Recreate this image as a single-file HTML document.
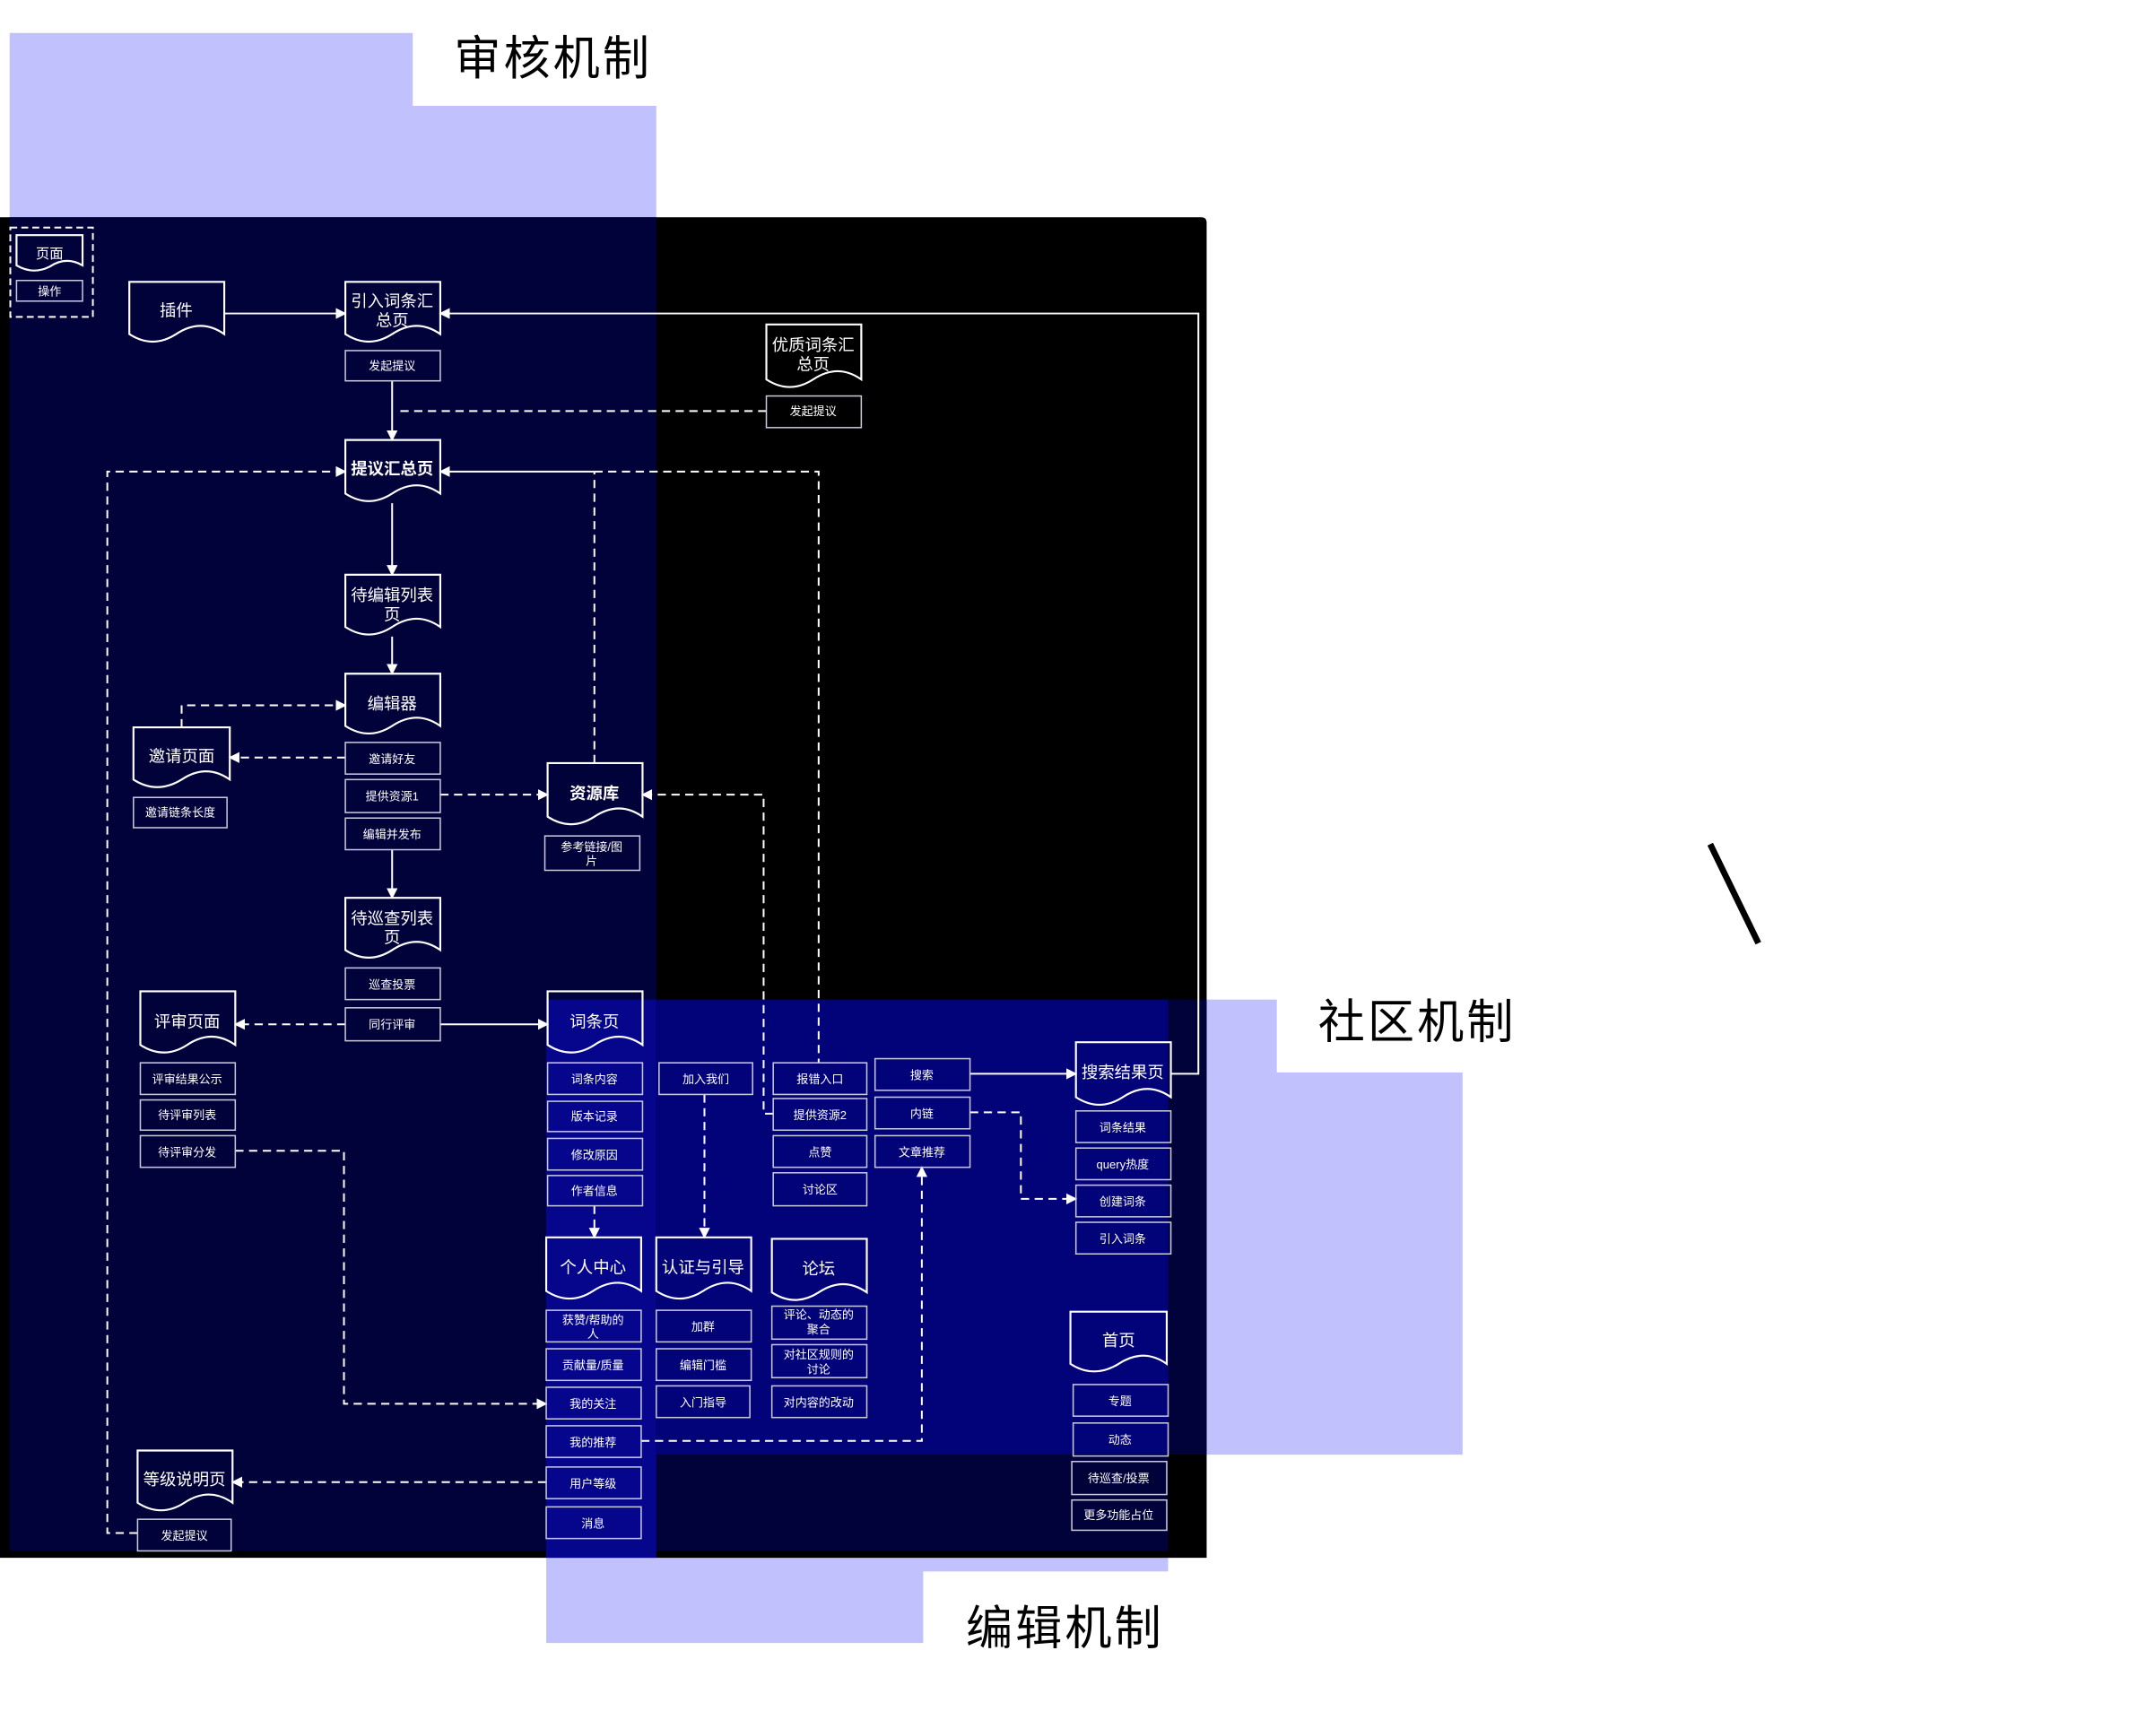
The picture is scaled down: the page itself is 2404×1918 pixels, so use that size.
<!DOCTYPE html>
<html><head><meta charset="utf-8"><style>
html,body{margin:0;padding:0;background:#fff;}
svg{display:block;}
text{font-family:"Liberation Sans","Noto Sans CJK SC",sans-serif;fill:#fff;text-anchor:middle;}
.t{fill:#000;font-size:34px;text-anchor:start;letter-spacing:2px;}
.d{font-size:12px;}
.b{font-size:8.5px;}
.doc{fill:none;stroke:#fff;stroke-width:1.4;}
.bx{fill:none;stroke:#c8c8dc;stroke-width:1;}
.s{fill:none;stroke:#fff;stroke-width:1.3;}
.ds{fill:none;stroke:#fff;stroke-width:1.3;stroke-dasharray:6 4;}
</style></head><body>
<svg width="2404" height="1918" viewBox="0 0 1567 1251" preserveAspectRatio="none" xmlns="http://www.w3.org/2000/svg">
<defs><marker id="a" markerWidth="8" markerHeight="8" refX="7" refY="4" orient="auto" markerUnits="userSpaceOnUse"><path d="M0,0 L8,4 L0,8 Z" fill="#fff"/></marker></defs>
<!-- lavender panels -->
<path d="M7,24 H300 V77 H477 V160 H7 Z" fill="#c1c1fd"/>
<path d="M849,727 H928 V780 H1063 V1058 H849 Z" fill="#c1c1fd"/>
<path d="M397,1120 H849 V1143 H671 V1195 H397 Z" fill="#c1c1fd"/>
<text class="t" x="330" y="54">审核机制</text>
<text class="t" x="958" y="755">社区机制</text>
<text class="t" x="702" y="1196">编辑机制</text>
<line x1="1243" y1="614" x2="1278" y2="686" stroke="#000" stroke-width="4.5"/>
<!-- black / navy -->
<path d="M0,158 H873 Q877,158 877,162 V1133 H0 Z" fill="#000"/>
<rect x="7" y="158" width="470" height="970" fill="#02023a"/>
<rect x="849" y="727" width="28" height="331" fill="#02023a"/>
<rect x="477" y="727" width="372" height="331" fill="#020279"/>
<rect x="477" y="1058" width="372" height="70" fill="#02023a"/>
<rect x="397" y="727" width="80" height="406" fill="#06068c"/>

<!-- legend -->
<rect x="7.5" y="165.5" width="60" height="65" fill="none" stroke="#fff" stroke-width="1.3" stroke-dasharray="5 3"/>
<path class="doc" d="M12,171 H60 V193 Q48,186 36,194 Q24,200 12,193 Z"/><text class="b" x="36" y="188" style="font-size:10px">页面</text>
<rect class="bx" x="12" y="204" width="48" height="15"/><text class="b" x="36" y="215">操作</text>

<!-- connectors -->
<line class="s" x1="163" y1="228" x2="251" y2="228" marker-end="url(#a)"/>
<polyline class="s" points="851,781 871,781 871,228 320,228" marker-end="url(#a)"/>
<line class="s" x1="285" y1="277" x2="285" y2="320" marker-end="url(#a)"/>
<line class="ds" x1="557" y1="299" x2="287" y2="299"/>
<line class="s" x1="285" y1="366" x2="285" y2="418" marker-end="url(#a)"/>
<line class="s" x1="285" y1="463" x2="285" y2="490" marker-end="url(#a)"/>
<polyline class="ds" points="100,1115 78,1115 78,343 251,343" marker-end="url(#a)"/>
<line class="s" x1="432" y1="343" x2="320" y2="343" marker-end="url(#a)"/>
<line class="ds" x1="432" y1="555" x2="432" y2="343"/>
<polyline class="ds" points="432,343 595,343 595,773"/>
<polyline class="ds" points="132,529 132,513 251,513" marker-end="url(#a)"/>
<line class="ds" x1="251" y1="551" x2="167" y2="551" marker-end="url(#a)"/>
<line class="ds" x1="320" y1="578" x2="398" y2="578" marker-end="url(#a)"/>
<polyline class="ds" points="562,810 555,810 555,578 467,578" marker-end="url(#a)"/>
<line class="s" x1="285" y1="618" x2="285" y2="653" marker-end="url(#a)"/>
<line class="ds" x1="251" y1="745" x2="171" y2="745" marker-end="url(#a)"/>
<line class="s" x1="320" y1="745" x2="398" y2="745" marker-end="url(#a)"/>
<polyline class="ds" points="171,837 250,837 250,1021 397,1021" marker-end="url(#a)"/>
<line class="ds" x1="432" y1="877" x2="432" y2="900" marker-end="url(#a)"/>
<line class="ds" x1="512" y1="796" x2="512" y2="900" marker-end="url(#a)"/>
<line class="s" x1="705" y1="781" x2="782" y2="781" marker-end="url(#a)"/>
<polyline class="ds" points="705,809 742,809 742,872 782,872" marker-end="url(#a)"/>
<polyline class="ds" points="466,1048 670,1048 670,849" marker-end="url(#a)"/>
<line class="ds" x1="397" y1="1078" x2="169" y2="1078" marker-end="url(#a)"/>

<!-- documents -->
<path class="doc" d="M94,205 H163 V243 Q146,231 128,243 Q111,254 94,243 Z"/><text class="d" x="128" y="230">插件</text>
<path class="doc" d="M251,205 H320 V243 Q303,231 285,243 Q268,254 251,243 Z"/><text class="d" x="285" y="223">引入词条汇</text><text class="d" x="285" y="237">总页</text>
<path class="doc" d="M557,236 H626 V276 Q609,264 591,276 Q574,287 557,276 Z"/><text class="d" x="591" y="255">优质词条汇</text><text class="d" x="591" y="269">总页</text>
<path class="doc" d="M251,320 H320 V359 Q303,347 285,359 Q268,370 251,359 Z"/><text class="d" x="285" y="345" style="font-weight:bold">提议汇总页</text>
<path class="doc" d="M251,418 H320 V456 Q303,444 285,456 Q268,467 251,456 Z"/><text class="d" x="285" y="437">待编辑列表</text><text class="d" x="285" y="451">页</text>
<path class="doc" d="M251,490 H320 V528 Q303,516 285,528 Q268,539 251,528 Z"/><text class="d" x="285" y="516">编辑器</text>
<path class="doc" d="M97,529 H167 V567 Q150,555 132,567 Q114,578 97,567 Z"/><text class="d" x="132" y="554">邀请页面</text>
<path class="doc" d="M398,555 H467 V594 Q450,582 432,594 Q415,605 398,594 Z"/><text class="d" x="432" y="581" style="font-weight:bold">资源库</text>
<path class="doc" d="M251,653 H320 V691 Q303,679 285,691 Q268,702 251,691 Z"/><text class="d" x="285" y="672">待巡查列表</text><text class="d" x="285" y="686">页</text>
<path class="doc" d="M102,721 H171 V760 Q154,748 136,760 Q119,771 102,760 Z"/><text class="d" x="136" y="747">评审页面</text>
<path class="doc" d="M398,721 H467 V760 Q450,748 432,760 Q415,771 398,760 Z"/><text class="d" x="432" y="747">词条页</text>
<path class="doc" d="M782,758 H851 V798 Q834,786 816,798 Q799,809 782,798 Z"/><text class="d" x="816" y="784">搜索结果页</text>
<path class="doc" d="M397,900 H466 V939 Q449,927 431,939 Q414,950 397,939 Z"/><text class="d" x="431" y="926">个人中心</text>
<path class="doc" d="M477,900 H546 V939 Q529,927 511,939 Q494,950 477,939 Z"/><text class="d" x="511" y="926">认证与引导</text>
<path class="doc" d="M561,901 H630 V940 Q613,928 595,940 Q578,951 561,940 Z"/><text class="d" x="595" y="927">论坛</text>
<path class="doc" d="M778,954 H848 V992 Q831,980 813,992 Q795,1003 778,992 Z"/><text class="d" x="813" y="979">首页</text>
<path class="doc" d="M100,1055 H169 V1093 Q152,1081 134,1093 Q117,1104 100,1093 Z"/><text class="d" x="134" y="1080">等级说明页</text>

<!-- boxes -->
<g>
<rect class="bx" x="251" y="255" width="69" height="22"/><text class="b" x="285" y="269">发起提议</text>
<rect class="bx" x="557" y="288" width="69" height="23"/><text class="b" x="591" y="302">发起提议</text>
<rect class="bx" x="251" y="540" width="69" height="23"/><text class="b" x="285" y="555">邀请好友</text>
<rect class="bx" x="251" y="567" width="69" height="24"/><text class="b" x="285" y="582">提供资源1</text>
<rect class="bx" x="251" y="595" width="69" height="23"/><text class="b" x="285" y="610">编辑并发布</text>
<rect class="bx" x="97" y="580" width="68" height="22"/><text class="b" x="131" y="594">邀请链条长度</text>
<rect class="bx" x="396" y="608" width="69" height="25"/><text class="b" x="430" y="619">参考链接/图</text><text class="b" x="430" y="629">片</text>
<rect class="bx" x="251" y="704" width="69" height="23"/><text class="b" x="285" y="719">巡查投票</text>
<rect class="bx" x="251" y="733" width="69" height="24"/><text class="b" x="285" y="748">同行评审</text>
<rect class="bx" x="102" y="773" width="69" height="23"/><text class="b" x="136" y="788">评审结果公示</text>
<rect class="bx" x="102" y="800" width="69" height="22"/><text class="b" x="136" y="814">待评审列表</text>
<rect class="bx" x="102" y="826" width="69" height="23"/><text class="b" x="136" y="841">待评审分发</text>
<rect class="bx" x="398" y="773" width="69" height="23"/><text class="b" x="432" y="788">词条内容</text>
<rect class="bx" x="398" y="801" width="69" height="22"/><text class="b" x="432" y="815">版本记录</text>
<rect class="bx" x="398" y="828" width="69" height="23"/><text class="b" x="432" y="843">修改原因</text>
<rect class="bx" x="398" y="855" width="69" height="22"/><text class="b" x="432" y="869">作者信息</text>
<rect class="bx" x="479" y="773" width="68" height="23"/><text class="b" x="513" y="788">加入我们</text>
<rect class="bx" x="562" y="773" width="68" height="23"/><text class="b" x="596" y="788">报错入口</text>
<rect class="bx" x="562" y="799" width="68" height="23"/><text class="b" x="596" y="814">提供资源2</text>
<rect class="bx" x="562" y="826" width="68" height="23"/><text class="b" x="596" y="841">点赞</text>
<rect class="bx" x="562" y="853" width="68" height="24"/><text class="b" x="596" y="868">讨论区</text>
<rect class="bx" x="636" y="770" width="69" height="23"/><text class="b" x="670" y="785">搜索</text>
<rect class="bx" x="636" y="798" width="69" height="23"/><text class="b" x="670" y="813">内链</text>
<rect class="bx" x="636" y="826" width="69" height="23"/><text class="b" x="670" y="841">文章推荐</text>
<rect class="bx" x="782" y="808" width="69" height="23"/><text class="b" x="816" y="823">词条结果</text>
<rect class="bx" x="782" y="835" width="69" height="23"/><text class="b" x="816" y="850">query热度</text>
<rect class="bx" x="782" y="862" width="69" height="23"/><text class="b" x="816" y="877">创建词条</text>
<rect class="bx" x="782" y="889" width="69" height="23"/><text class="b" x="816" y="904">引入词条</text>
<rect class="bx" x="397" y="953" width="69" height="23"/><text class="b" x="431" y="963">获赞/帮助的</text><text class="b" x="431" y="973">人</text>
<rect class="bx" x="397" y="981" width="69" height="23"/><text class="b" x="431" y="996">贡献量/质量</text>
<rect class="bx" x="397" y="1009" width="69" height="23"/><text class="b" x="431" y="1024">我的关注</text>
<rect class="bx" x="397" y="1037" width="69" height="23"/><text class="b" x="431" y="1052">我的推荐</text>
<rect class="bx" x="397" y="1067" width="69" height="23"/><text class="b" x="431" y="1082">用户等级</text>
<rect class="bx" x="397" y="1096" width="69" height="23"/><text class="b" x="431" y="1111">消息</text>
<rect class="bx" x="477" y="953" width="69" height="23"/><text class="b" x="511" y="968">加群</text>
<rect class="bx" x="477" y="981" width="69" height="23"/><text class="b" x="511" y="996">编辑门槛</text>
<rect class="bx" x="477" y="1008" width="68" height="23"/><text class="b" x="511" y="1023">入门指导</text>
<rect class="bx" x="561" y="950" width="69" height="24"/><text class="b" x="595" y="959">评论、动态的</text><text class="b" x="595" y="970">聚合</text>
<rect class="bx" x="561" y="978" width="69" height="24"/><text class="b" x="595" y="988">对社区规则的</text><text class="b" x="595" y="999">讨论</text>
<rect class="bx" x="561" y="1008" width="69" height="23"/><text class="b" x="595" y="1023">对内容的改动</text>
<rect class="bx" x="780" y="1007" width="69" height="23"/><text class="b" x="814" y="1022">专题</text>
<rect class="bx" x="780" y="1035" width="69" height="24"/><text class="b" x="814" y="1050">动态</text>
<rect class="bx" x="779" y="1063" width="69" height="24"/><text class="b" x="813" y="1078">待巡查/投票</text>
<rect class="bx" x="779" y="1091" width="69" height="22"/><text class="b" x="813" y="1105">更多功能占位</text>
<rect class="bx" x="100" y="1105" width="68" height="23"/><text class="b" x="134" y="1120">发起提议</text>
</g>
</svg>
</body></html>
